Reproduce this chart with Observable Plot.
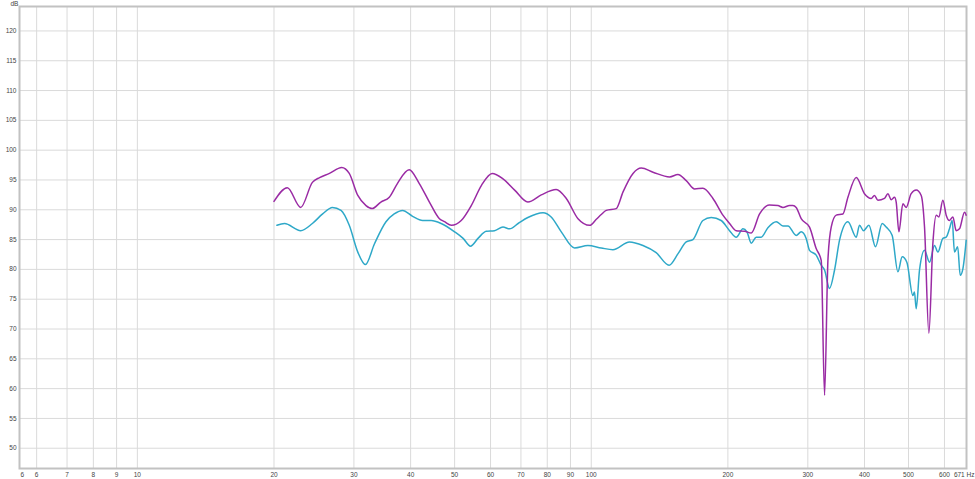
<!DOCTYPE html>
<html><head><meta charset="utf-8">
<script src="https://cdn.jsdelivr.net/npm/d3@7"></script>
<script src="https://cdn.jsdelivr.net/npm/@observablehq/plot@0.6"></script>
<style>body{margin:0;background:#fff;overflow:hidden}</style>
</head><body><div id="chart"></div>
<script>
const purpleHz = [20.0,21.4,22.9,24.3,25.2,26.5,28.2,29.3,30.6,31.9,32.9,34.4,35.9,37.4,39.7,41.8,44.0,46.3,47.5,49.2,51.7,54.4,57.3,60.5,63.9,67.8,72.5,77.6,83.7,88.1,93.5,99.2,102.6,105.2,107.9,113.5,117.5,123.6,128.9,136.8,148.8,155.2,161.9,168.9,176.2,185.4,195.0,201.7,208.6,217.7,225.2,234.9,247.0,257.7,264.4,273.5,278.2,282.8,290.1,302.6,313.0,321.1,326.6,332.2,337.8,346.5,358.5,367.7,383.6,399.9,413.7,420.7,428.1,442.6,450.3,458.0,465.6,469.7,476.2,485.9,494.1,506.8,519.9,533.3,542.3,554.4,565.7,575.4,583.2,595.2,605.3,615.5,626.2,636.8,647.5,664.3,669.9];
const purpleDb = [91.4,93.7,90.4,94.6,95.4,96.1,97.1,96.1,92.4,90.7,90.2,91.3,92.1,94.4,96.7,94.4,91.3,88.5,88.0,87.4,88.2,90.7,94.1,96.1,95.2,93.3,91.3,92.5,93.4,91.9,88.5,87.4,88.4,89.2,89.9,90.2,93.0,96.1,97.0,96.3,95.5,95.9,94.9,93.5,93.6,91.9,89.1,87.7,86.5,86.4,86.1,89.3,90.8,90.7,90.4,90.7,90.7,90.4,88.5,87.1,83.5,81.5,58.9,81.5,87.1,89.1,89.3,92.1,95.4,92.7,91.9,92.4,91.6,91.9,92.7,91.7,92.1,91.3,86.3,91.0,90.4,92.7,93.3,92.4,87.1,69.3,84.3,89.1,88.8,91.6,89.1,88.2,88.8,86.5,86.8,89.6,89.1];
const cyanHz = [20.3,21.1,22.9,24.3,25.6,26.9,28.1,29.3,30.6,31.8,33.3,35.3,36.8,38.4,40.4,42.5,44.4,46.7,50.0,52.2,54.2,56.3,58.7,61.2,63.9,66.1,69.0,72.5,78.3,81.6,85.9,91.9,98.3,105.2,111.6,121.4,130.0,139.0,148.4,155.2,161.9,167.5,176.2,183.8,193.3,201.7,208.6,215.9,220.3,225.2,230.9,236.8,245.0,255.6,264.4,271.3,282.8,290.1,297.5,302.6,313.0,321.1,326.6,334.9,343.6,352.4,367.7,383.6,389.9,397.9,409.0,422.9,437.5,446.5,460.3,473.8,484.2,495.8,511.2,515.3,519.9,528.7,542.3,556.2,570.5,580.3,595.2,605.3,615.5,624.1,631.3,641.6,649.9,658.8,670];
const cyanDb = [87.4,87.7,86.5,87.7,89.3,90.4,89.9,87.4,82.9,80.8,84.3,88.0,89.3,89.9,88.9,88.2,88.2,87.7,86.3,85.2,83.9,85.2,86.4,86.5,87.1,86.8,87.7,88.7,89.5,88.8,86.3,83.6,84.0,83.6,83.3,84.6,84.0,82.8,80.7,82.6,84.6,85.0,88.2,88.7,88.2,86.5,85.4,86.8,86.3,84.4,85.4,85.4,87.0,88.0,87.3,87.3,85.7,86.3,85.2,83.2,82.4,80.7,79.9,76.8,79.9,84.9,88.0,85.4,87.4,86.5,87.4,83.8,87.7,87.1,85.7,79.6,82.1,81.2,75.6,76.2,73.4,79.9,83.2,81.2,84.0,82.9,85.2,85.4,86.8,88.2,82.9,83.8,79.0,80.1,84.9];
const xTicks = [6,7,8,9,10,20,30,40,50,60,70,80,90,100,200,300,400,500,600];
const yTicks = [50,55,60,65,70,75,80,85,90,95,100,105,110,115,120];
const xStartLabel = ["6"];
const xEndLabel = ["671 Hz"];

const rows = (hz, db) => hz.map((f, i) => ({f, db: db[i]}));
const purple = rows(purpleHz, purpleDb);
const cyan = rows(cyanHz, cyanDb);
const labelStyle = {fontSize: 6.5, fill: "#444", stroke: null};

const chart = Plot.plot({
  width: 975, height: 479,
  marginLeft: 19, marginRight: 9, marginTop: 6, marginBottom: 11,
  x: {type: "log", domain: [5.5, 671], axis: null},
  y: {domain: [46.6, 124.1], axis: null},
  style: {fontFamily: "'Liberation Sans', Arial, sans-serif", fontSize: "7px", color: "#444", background: "#fff"},
  marks: [
    Plot.ruleX(xTicks, {stroke: "#dadada", strokeWidth: 1}),
    Plot.ruleY(yTicks, {stroke: "#dadada", strokeWidth: 1}),
    Plot.frame({stroke: "#c2c2c2", strokeWidth: 2}),
    Plot.line(cyan, {x: "f", y: "db", stroke: "#2ea8c8", strokeWidth: 1.5, curve: "monotone-x"}),
    Plot.line(purple, {x: "f", y: "db", stroke: "#9a2ba4", strokeWidth: 1.5, curve: "monotone-x"}),
    Plot.text(xTicks, {x: d => d, text: d => String(d), frameAnchor: "bottom", dy: 6, lineAnchor: "middle", ...labelStyle}),
    Plot.text(xStartLabel, {frameAnchor: "bottom-left", dx: 1, dy: 6, lineAnchor: "middle", ...labelStyle}),
    Plot.text(xEndLabel, {frameAnchor: "bottom-right", dx: 8, dy: 6, textAnchor: "end", lineAnchor: "middle", ...labelStyle}),
    Plot.text(yTicks, {y: d => d, text: d => String(d), frameAnchor: "left", dx: -3, textAnchor: "end", lineAnchor: "middle", ...labelStyle}),
    Plot.text(["dB"], {frameAnchor: "top-left", dx: -9, dy: -3, textAnchor: "start", lineAnchor: "middle", ...labelStyle})
  ]
});
document.getElementById("chart").append(chart);
</script>
</body></html>
